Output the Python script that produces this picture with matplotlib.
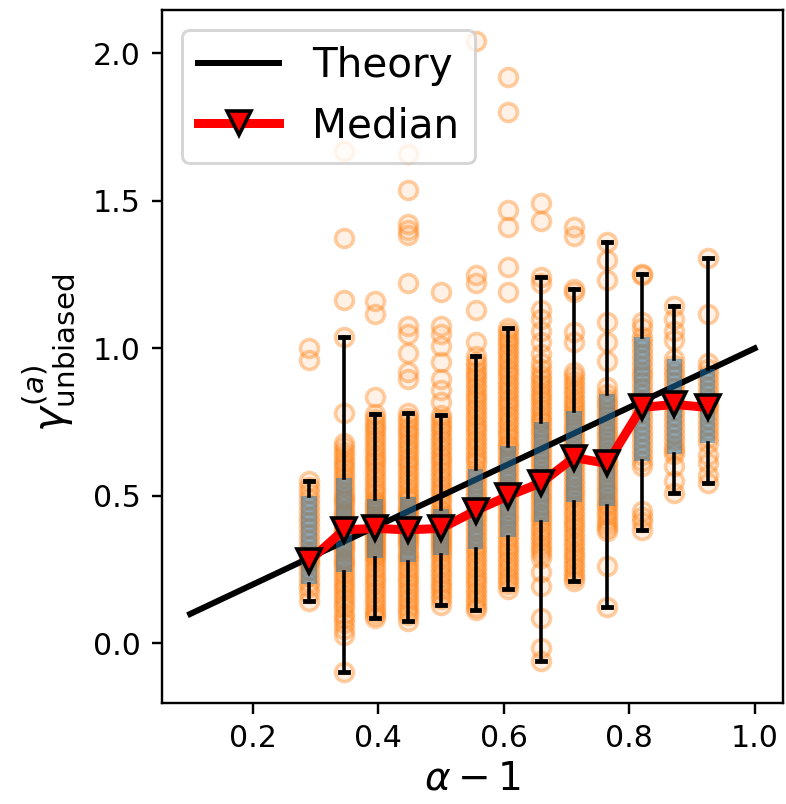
import numpy as np
import matplotlib
matplotlib.use("Agg")
import matplotlib.pyplot as plt
from matplotlib.ticker import MultipleLocator

# x positions of the 13 groups (alpha - 1)
alpha_m1 = [0.29, 0.345, 0.395, 0.447, 0.50, 0.555, 0.607, 0.66, 0.712, 0.765, 0.82, 0.872, 0.925]

# box statistics
med = [0.28, 0.385, 0.39, 0.385, 0.39, 0.45, 0.50, 0.545, 0.63, 0.61, 0.80, 0.81, 0.80]
q1 = [0.20, 0.243, 0.29, 0.277, 0.30, 0.32, 0.36, 0.41, 0.48, 0.465, 0.62, 0.642, 0.68]
q3 = [0.50, 0.56, 0.49, 0.497, 0.456, 0.59, 0.67, 0.75, 0.787, 0.845, 1.04, 0.965, 0.93]
whis_lo = [0.145, -0.095, 0.085, 0.075, 0.13, 0.115, 0.186, -0.058, 0.213, 0.125, 0.385, 0.51, 0.544]
whis_hi = [0.55, 1.04, 0.777, 0.78, 0.775, 0.973, 1.07, 1.243, 1.20, 1.36, 1.253, 1.142, 1.307]

# individual estimates per group
g1 = [1.00, 0.96, 0.55, 0.53, 0.51, 0.49, 0.47, 0.45, 0.43, 0.41, 0.39, 0.37, 0.35, 0.33,
      0.31, 0.30, 0.29, 0.28, 0.27, 0.25, 0.23, 0.21, 0.19, 0.17, 0.145]
g2 = [1.67, 1.375, 1.165, 1.04, 0.78, 0.68, 0.665, 0.65, 0.635, 0.62, 0.605, 0.59, 0.575,
      0.56, 0.545, 0.53, 0.515, 0.50, 0.49, 0.48, 0.465, 0.45, 0.44, 0.43, 0.415, 0.40,
      0.39, 0.38, 0.37, 0.355, 0.34, 0.33, 0.32, 0.305, 0.29, 0.28, 0.27, 0.255, 0.24,
      0.225, 0.21, 0.195, 0.18, 0.165, 0.15, 0.135, 0.12, 0.10, 0.085, 0.07, 0.05, 0.03, -0.095]
g3 = [1.16, 1.115, 0.834, 0.777, 0.76, 0.745, 0.73, 0.715, 0.70, 0.685, 0.67, 0.655, 0.64,
      0.625, 0.61, 0.595, 0.58, 0.565, 0.55, 0.535, 0.52, 0.505, 0.49, 0.48, 0.47, 0.46,
      0.45, 0.44, 0.43, 0.42, 0.41, 0.40, 0.39, 0.38, 0.37, 0.36, 0.35, 0.34, 0.33, 0.32,
      0.31, 0.30, 0.29, 0.275, 0.26, 0.245, 0.23, 0.215, 0.20, 0.185, 0.17, 0.155, 0.14,
      0.125, 0.11, 0.095, 0.085]
g4 = [1.66, 1.537, 1.42, 1.40, 1.385, 1.22, 1.075, 1.05, 0.985, 0.92, 0.895, 0.78, 0.765,
      0.75, 0.735, 0.72, 0.705, 0.69, 0.675, 0.66, 0.645, 0.63, 0.615, 0.60, 0.585, 0.57,
      0.555, 0.54, 0.525, 0.51, 0.497, 0.485, 0.47, 0.46, 0.45, 0.44, 0.43, 0.42, 0.41,
      0.40, 0.39, 0.38, 0.37, 0.36, 0.35, 0.34, 0.33, 0.315, 0.30, 0.29, 0.277, 0.26,
      0.245, 0.23, 0.215, 0.20, 0.185, 0.17, 0.155, 0.14, 0.125, 0.11, 0.095, 0.075]
g5 = [1.19, 1.075, 1.05, 1.007, 0.953, 0.895, 0.86, 0.817, 0.775, 0.76, 0.745, 0.73, 0.715,
      0.70, 0.685, 0.67, 0.655, 0.64, 0.625, 0.61, 0.595, 0.58, 0.565, 0.55, 0.535, 0.52,
      0.505, 0.49, 0.475, 0.456, 0.445, 0.435, 0.425, 0.415, 0.405, 0.395, 0.385, 0.375,
      0.365, 0.355, 0.345, 0.335, 0.325, 0.315, 0.30, 0.285, 0.27, 0.255, 0.24, 0.225,
      0.21, 0.195, 0.18, 0.165, 0.15, 0.13]
g6 = [2.04, 1.25, 1.22, 1.13, 1.02, 0.973, 0.955, 0.94, 0.925, 0.91, 0.895, 0.88, 0.865,
      0.85, 0.835, 0.82, 0.805, 0.79, 0.775, 0.76, 0.745, 0.73, 0.715, 0.70, 0.685, 0.67,
      0.655, 0.64, 0.625, 0.61, 0.59, 0.575, 0.56, 0.545, 0.53, 0.515, 0.50, 0.485, 0.47,
      0.455, 0.44, 0.425, 0.41, 0.395, 0.38, 0.365, 0.35, 0.335, 0.32, 0.305, 0.29, 0.275,
      0.26, 0.245, 0.23, 0.215, 0.20, 0.185, 0.17, 0.155, 0.14, 0.125, 0.115]
g7 = [1.92, 1.80, 1.47, 1.41, 1.277, 1.19, 1.07, 1.055, 1.04, 1.025, 1.01, 0.995, 0.98,
      0.965, 0.95, 0.935, 0.92, 0.905, 0.89, 0.875, 0.86, 0.845, 0.83, 0.815, 0.80, 0.785,
      0.77, 0.755, 0.74, 0.725, 0.71, 0.695, 0.68, 0.67, 0.655, 0.64, 0.625, 0.61, 0.595,
      0.58, 0.565, 0.55, 0.535, 0.52, 0.50, 0.485, 0.47, 0.455, 0.44, 0.425, 0.41, 0.395,
      0.38, 0.365, 0.35, 0.335, 0.32, 0.305, 0.29, 0.275, 0.26, 0.245, 0.23, 0.215, 0.2, 0.186]
g8 = [1.493, 1.43, 1.243, 1.22, 1.13, 1.10, 1.06, 1.02, 0.98, 0.95, 0.93, 0.91, 0.895, 0.88,
      0.865, 0.85, 0.835, 0.82, 0.805, 0.79, 0.775, 0.76, 0.75, 0.735, 0.72, 0.705, 0.69,
      0.675, 0.66, 0.645, 0.63, 0.615, 0.60, 0.585, 0.57, 0.555, 0.545, 0.53, 0.515, 0.50,
      0.485, 0.47, 0.455, 0.44, 0.425, 0.41, 0.395, 0.38, 0.365, 0.35, 0.335, 0.32, 0.305,
      0.29, 0.243, 0.196, 0.085, -0.017, -0.058]
g9 = [1.41, 1.38, 1.20, 1.19, 1.054, 1.02, 0.92, 0.905, 0.89, 0.875, 0.86, 0.845, 0.83,
      0.815, 0.80, 0.787, 0.775, 0.76, 0.745, 0.73, 0.715, 0.70, 0.685, 0.67, 0.655, 0.64,
      0.63, 0.615, 0.60, 0.585, 0.57, 0.555, 0.54, 0.525, 0.51, 0.495, 0.48, 0.465, 0.45,
      0.435, 0.42, 0.405, 0.39, 0.375, 0.36, 0.345, 0.33, 0.315, 0.30, 0.285, 0.27, 0.255,
      0.24, 0.225, 0.213]
g10 = [1.36, 1.30, 1.233, 1.088, 1.02, 0.956, 0.87, 0.845, 0.83, 0.815, 0.80, 0.785, 0.77,
       0.755, 0.74, 0.725, 0.71, 0.695, 0.68, 0.665, 0.65, 0.635, 0.62, 0.61, 0.595, 0.58,
       0.565, 0.55, 0.535, 0.52, 0.505, 0.49, 0.475, 0.465, 0.45, 0.435, 0.42, 0.405,
       0.39, 0.38, 0.263, 0.125]
g11 = [1.253, 1.25, 1.088, 1.07, 1.04, 1.02, 1.0, 0.98, 0.96, 0.94, 0.92, 0.905, 0.885,
       0.865, 0.845, 0.825, 0.80, 0.78, 0.76, 0.74, 0.72, 0.70, 0.68, 0.66, 0.64, 0.62,
       0.60, 0.45, 0.43, 0.41, 0.385]
g12 = [1.142, 1.10, 1.06, 1.03, 0.965, 0.945, 0.925, 0.905, 0.885, 0.865, 0.845, 0.825,
       0.81, 0.79, 0.77, 0.75, 0.73, 0.71, 0.69, 0.67, 0.655, 0.642, 0.60, 0.55, 0.51]
g13 = [1.307, 1.115, 0.95, 0.93, 0.91, 0.89, 0.87, 0.85, 0.83, 0.81, 0.80, 0.78, 0.76, 0.74,
       0.72, 0.70, 0.68, 0.64, 0.61, 0.57, 0.544]
samples = [g1, g2, g3, g4, g5, g6, g7, g8, g9, g10, g11, g12, g13]

theory_x = [0.1, 1.0]
theory_y = [0.1, 1.0]

fig = plt.figure(figsize=(786 / 216, 804 / 216), dpi=216)
ax = fig.add_axes([0.206, 0.1256, 0.79, 0.862])

orange = (1.0, 0.498, 0.055)
for x, ys in zip(alpha_m1, samples):
    ax.scatter(np.full(len(ys), x), ys, s=36, facecolors=[orange + (0.1,)],
               edgecolors=[orange + (0.38,)], linewidths=1.2, zorder=1)

ax.plot(theory_x, theory_y, color="black", lw=2, label="Theory", zorder=2)

stats = [
    {"med": m, "q1": a, "q3": b, "whislo": lo, "whishi": hi}
    for m, a, b, lo, hi in zip(med, q1, q3, whis_lo, whis_hi)
]
ax.bxp(stats, positions=alpha_m1, widths=0.025, patch_artist=True, showfliers=False,
       manage_ticks=False,
       boxprops=dict(facecolor=(0.12, 0.47, 0.71, 0.5), edgecolor="none"),
       whiskerprops=dict(color="black", lw=1.2),
       capprops=dict(color="black", lw=1.6),
       medianprops=dict(lw=0),
       zorder=3)

ax.plot(alpha_m1, med, color="red", lw=3, marker="v", ms=8, mfc="red", mec="black",
        mew=1.2, label="Median", zorder=4)

ax.yaxis.set_major_locator(MultipleLocator(0.5))
ax.set_xlabel(r"$\alpha - 1$", fontsize=13, labelpad=2)
ax.set_ylabel(r"$\gamma^{(a)}_{\mathrm{unbiased}}$", fontsize=14)
ax.yaxis.set_label_coords(-0.135, 0.505)
ax.legend(loc="upper left", fontsize=13.5)

fig.savefig("out.png", dpi=216)
